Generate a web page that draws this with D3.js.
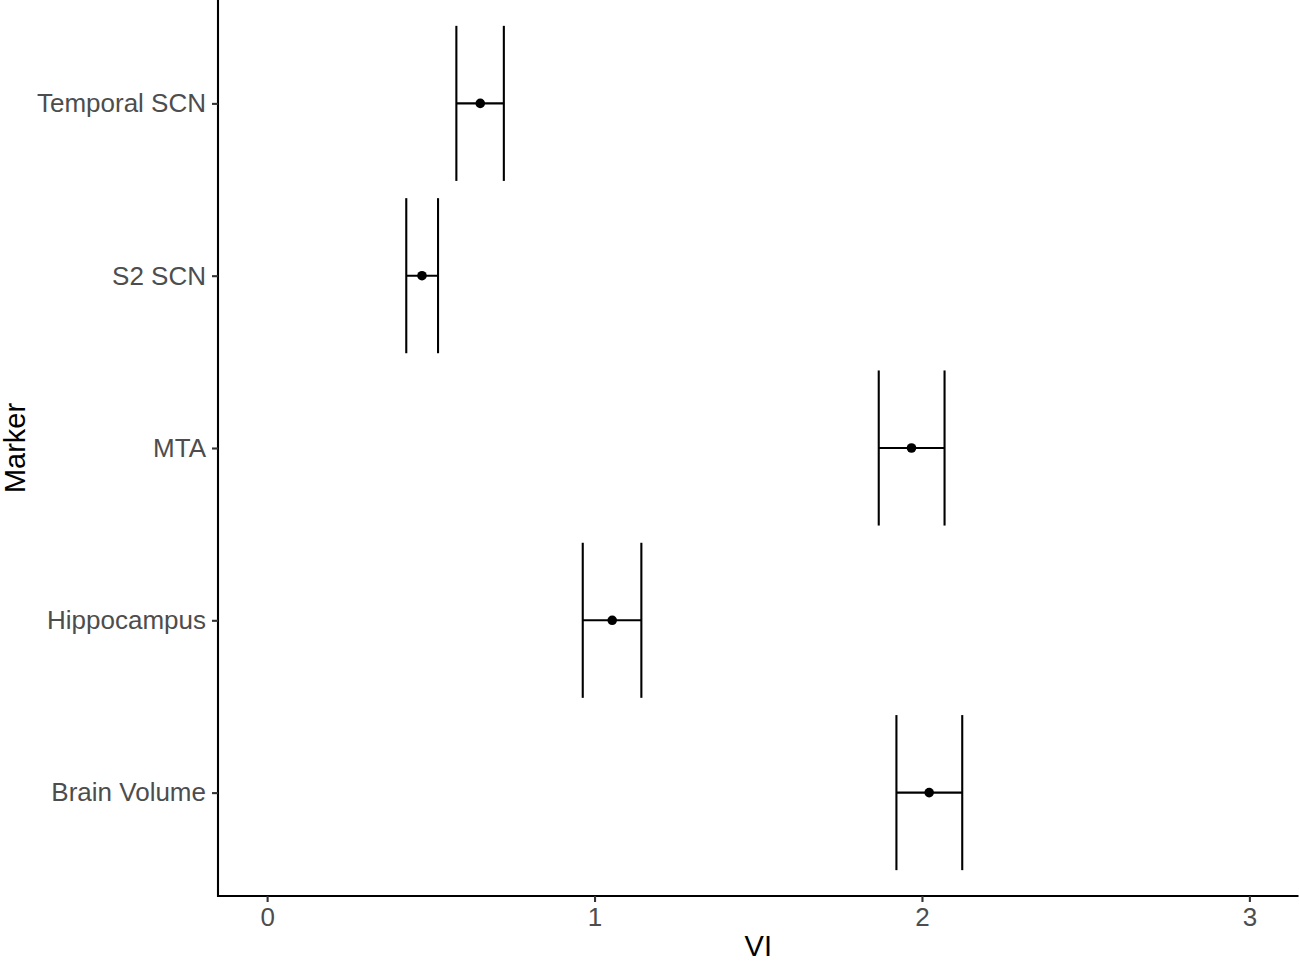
<!DOCTYPE html>
<html>
<head>
<meta charset="utf-8">
<script src="https://cdn.jsdelivr.net/npm/d3@7"></script>
<style>
  html, body { margin: 0; padding: 0; background: #fff; }
  svg { display: block; }
  text { font-family: "Liberation Sans", Arial, Helvetica, sans-serif; }
</style>
</head>
<body>
<svg id="chart" width="1299" height="961"></svg>
<script>
// Data (top to bottom as displayed)
const markers = ["Temporal SCN", "S2 SCN", "MTA", "Hippocampus", "Brain Volume"];
const estimate = [0.651, 0.473, 1.968, 1.054, 2.022];
const lower    = [0.578, 0.425, 1.868, 0.964, 1.922];
const upper    = [0.723, 0.522, 2.069, 1.143, 2.123];
const xTicks   = [0, 1, 2, 3];
const xLabel = "VI";
const yLabel = "Marker";

const W = 1299, H = 961;
const panel = { left: 218, top: 0, right: 1298.5, bottom: 896 };

const svg = d3.select("#chart");

const x = d3.scaleLinear().domain([-0.15, 3.15]).range([panel.left, panel.right]);
const y = d3.scalePoint().domain(markers).range([panel.top, panel.bottom]).padding(0.6);
const half = y.step() * 0.45;

const rows = markers.map((m, i) => ({ m, est: estimate[i], lo: lower[i], hi: upper[i] }));

const g = svg.append("g");

// error bars (horizontal errorbar with vertical caps)
rows.forEach(d => {
  const cy = y(d.m);
  g.append("line").attr("x1", x(d.lo)).attr("x2", x(d.hi)).attr("y1", cy).attr("y2", cy)
    .attr("stroke", "#000").attr("stroke-width", 2.1);
  [d.lo, d.hi].forEach(v => {
    g.append("line").attr("x1", x(v)).attr("x2", x(v)).attr("y1", cy - half).attr("y2", cy + half)
      .attr("stroke", "#000").attr("stroke-width", 2.1);
  });
  g.append("circle").attr("cx", x(d.est)).attr("cy", cy).attr("r", 4.8).attr("fill", "#000");
});

// X axis
const xAxis = d3.axisBottom(x).tickValues(xTicks).tickFormat(d3.format("d")).tickSizeInner(6).tickSizeOuter(0).tickPadding(6);
const gx = svg.append("g").attr("transform", `translate(0,${panel.bottom})`).call(xAxis);
gx.select(".domain").attr("stroke", "#000").attr("stroke-width", 2.1)
  .attr("d", `M${panel.left - 1},0H${panel.right}`);
gx.selectAll(".tick line").attr("stroke", "#333").attr("stroke-width", 2.1);
gx.selectAll(".tick text").attr("fill", "#4d4d4d").attr("font-size", 26)
  .attr("font-family", "Liberation Sans, Arial, sans-serif");

// Y axis
const yAxis = d3.axisLeft(y).tickSizeInner(6).tickSizeOuter(0).tickPadding(6);
const gy = svg.append("g").attr("transform", `translate(${panel.left},0)`).call(yAxis);
gy.select(".domain").attr("stroke", "#000").attr("stroke-width", 2.1)
  .attr("d", `M0,${panel.top}V${panel.bottom + 1}`);
gy.selectAll(".tick line").attr("stroke", "#333").attr("stroke-width", 2.1);
gy.selectAll(".tick text").attr("fill", "#4d4d4d").attr("font-size", 26)
  .attr("font-family", "Liberation Sans, Arial, sans-serif");

// Axis titles
svg.append("text").attr("x", (panel.left + panel.right) / 2).attr("y", 956)
  .attr("text-anchor", "middle").attr("font-size", 29).attr("fill", "#000").text(xLabel);
svg.append("text").attr("transform", `translate(25,${(panel.top + panel.bottom) / 2}) rotate(-90)`)
  .attr("text-anchor", "middle").attr("font-size", 29).attr("fill", "#000").text(yLabel);
</script>
</body>
</html>
